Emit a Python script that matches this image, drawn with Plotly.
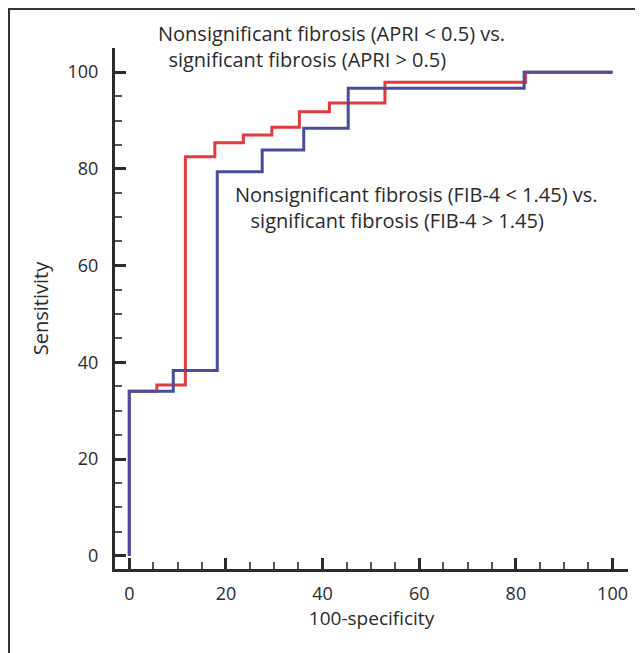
import plotly.graph_objects as go

# Data (ROC step curves)
apri_x = [0, 0, 5.7, 11.6, 17.7, 23.6, 29.5, 35.2, 41.4, 52.9, 82.0, 100]
apri_y = [0, 34.0, 35.3, 82.5, 85.4, 87.0, 88.6, 91.8, 93.6, 97.9, 100, 100]
fib4_x = [0, 0, 9.1, 18.2, 27.5, 36.1, 45.3, 81.7, 100]
fib4_y = [0, 34.0, 38.3, 79.4, 83.9, 88.4, 96.7, 100, 100]
x_ticks = [0, 20, 40, 60, 80, 100]
y_ticks = [0, 20, 40, 60, 80, 100]

apri_label_1 = "Nonsignificant fibrosis (APRI < 0.5) vs."
apri_label_2 = "significant fibrosis (APRI > 0.5)"
fib4_label_1 = "Nonsignificant fibrosis (FIB-4 < 1.45) vs."
fib4_label_2 = "significant fibrosis (FIB-4 > 1.45)"

RED = "#e23a3f"
BLUE = "#4a4c9e"
INK = "#2b2b2b"
FONT = "Open Sans"

fig = go.Figure()
fig.add_trace(go.Scatter(x=apri_x, y=apri_y, mode="lines", line_shape="hv",
                         line=dict(color=RED, width=3), showlegend=False))
fig.add_trace(go.Scatter(x=fib4_x, y=fib4_y, mode="lines", line_shape="hv",
                         line=dict(color=BLUE, width=3), showlegend=False))

axis_common = dict(
    showgrid=False, zeroline=False, showline=True, linecolor=INK, linewidth=3,
    ticks="inside", ticklen=11, tickwidth=2.5, tickcolor=INK,
    tickfont=dict(family=FONT, size=18, color=INK),
    minor=dict(ticks="inside", ticklen=7, tickwidth=2, tickcolor="#555555", dtick=5, showgrid=False),
)

fig.update_xaxes(range=[-2.96, 103.2], tickvals=x_ticks, ticklabelstandoff=6,
                 title=dict(text="100-specificity", font=dict(family=FONT, size=19, color=INK), standoff=8),
                 **axis_common)
fig.update_yaxes(range=[-2.75, 105], tickvals=y_ticks, ticklabelstandoff=10,
                 title=dict(text="Sensitivity", font=dict(family=FONT, size=20, color=INK), standoff=14),
                 **axis_common)

ann_font = dict(family=FONT, size=20, color=INK)
fig.update_layout(
    width=635, height=645,
    margin=dict(l=107, r=15, t=40, b=84),
    paper_bgcolor="white", plot_bgcolor="white",
    annotations=[
        dict(text=apri_label_1 + "<br>\u00a0\u00a0" + apri_label_2,
             xref="paper", yref="paper", x=0.0799, y=1.003, align="left",
             xanchor="left", yanchor="middle", showarrow=False, font=ann_font),
        dict(text=fib4_label_1 + "<br>\u00a0\u00a0\u00a0" + fib4_label_2,
             xref="paper", yref="paper", x=0.230, y=0.693, align="left",
             xanchor="left", yanchor="middle", showarrow=False, font=ann_font),
    ],
    shapes=[
        dict(type="path", xref="paper", yref="paper",
             path="M -0.2066,-0.2 L -0.2066,1.0749 L 1.05,1.0749",
             line=dict(color="#333333", width=2)),
    ],
)

fig.write_html("out.html")
